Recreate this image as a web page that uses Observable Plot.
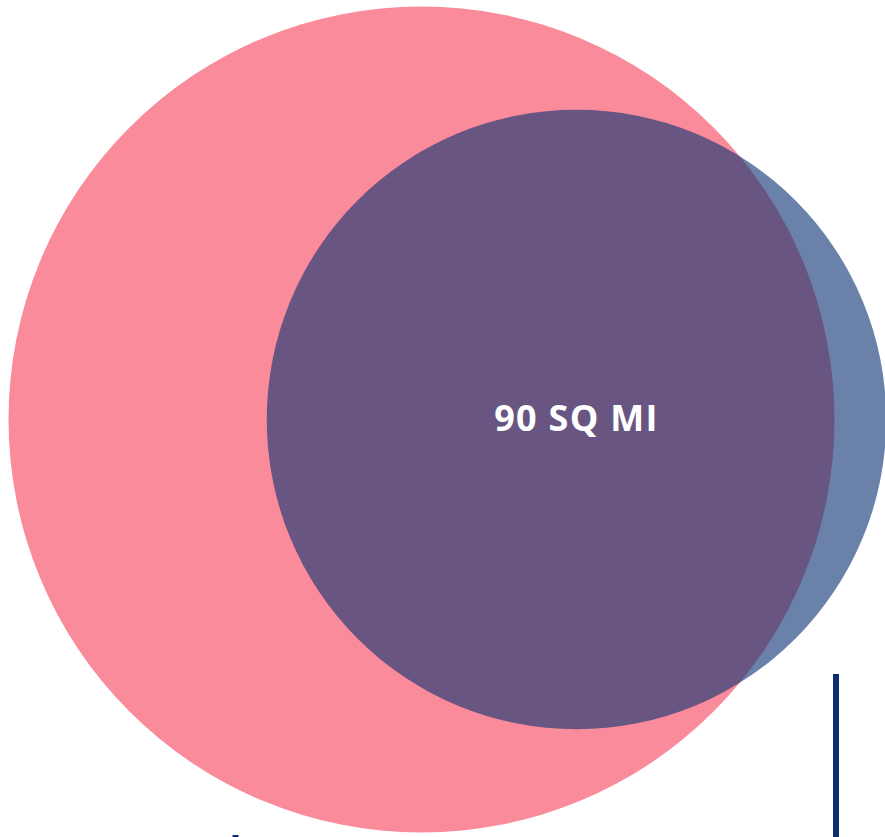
<!DOCTYPE html>
<html>
<head>
<meta charset="utf-8">
<script src="https://cdn.jsdelivr.net/npm/d3@7"></script>
<script src="https://cdn.jsdelivr.net/npm/@observablehq/plot@0.6"></script>
<style>
  html, body { margin: 0; padding: 0; background: #fff; overflow: hidden; }
  .lbl text { letter-spacing: 1.3px; }
</style>
</head>
<body>
<div id="chart"></div>
<script>
// Data
const names = ["Larger area", "90 sq mi area"];
const areas = [160, 90];            // square miles
const centerX = [421, 576];         // horizontal position of each circle
const centerY = [419, 419];
const fills = ["#F98B9B", "#0C3373"];
const opacities = [1, 0.61];
const labels = ["", "90 SQ MI"];

// scale-bar rules partly below the view
const barX = [835.5, 235];
const barTop = [674, 835];
const barBottom = [900, 900];

const circles = names.map((n, i) => ({
  name: n, area: areas[i], x: centerX[i], y: centerY[i],
  fill: fills[i], opacity: opacities[i], label: labels[i]
}));
const bars = barX.map((x, i) => ({x, y1: barTop[i], y2: barBottom[i]}));

const chart = Plot.plot({
  width: 885,
  height: 837,
  margin: 0,
  x: {domain: [0, 885], range: [0, 885], axis: null},
  y: {domain: [0, 837], range: [0, 837], axis: null},
  r: {type: "sqrt", domain: [0, 160], range: [0, 413]},
  marks: [
    Plot.dot(circles, {
      x: "x", y: "y", r: "area",
      fill: d => d.fill, fillOpacity: d => d.opacity,
      stroke: "none"
    }),
    Plot.ruleX(bars, {x: "x", y1: "y1", y2: "y2", stroke: "#0C2E6E", strokeWidth: 6}),
    Plot.text(circles.filter(d => d.label), {
      x: "x", y: "y", text: "label",
      fill: "white", fontSize: 36, fontWeight: "bold",
      fontFamily: "Open Sans", textAnchor: "middle", className: "lbl"
    })
  ]
});
chart.style.overflow = "hidden";
document.getElementById("chart").appendChild(chart);
</script>
</body>
</html>
